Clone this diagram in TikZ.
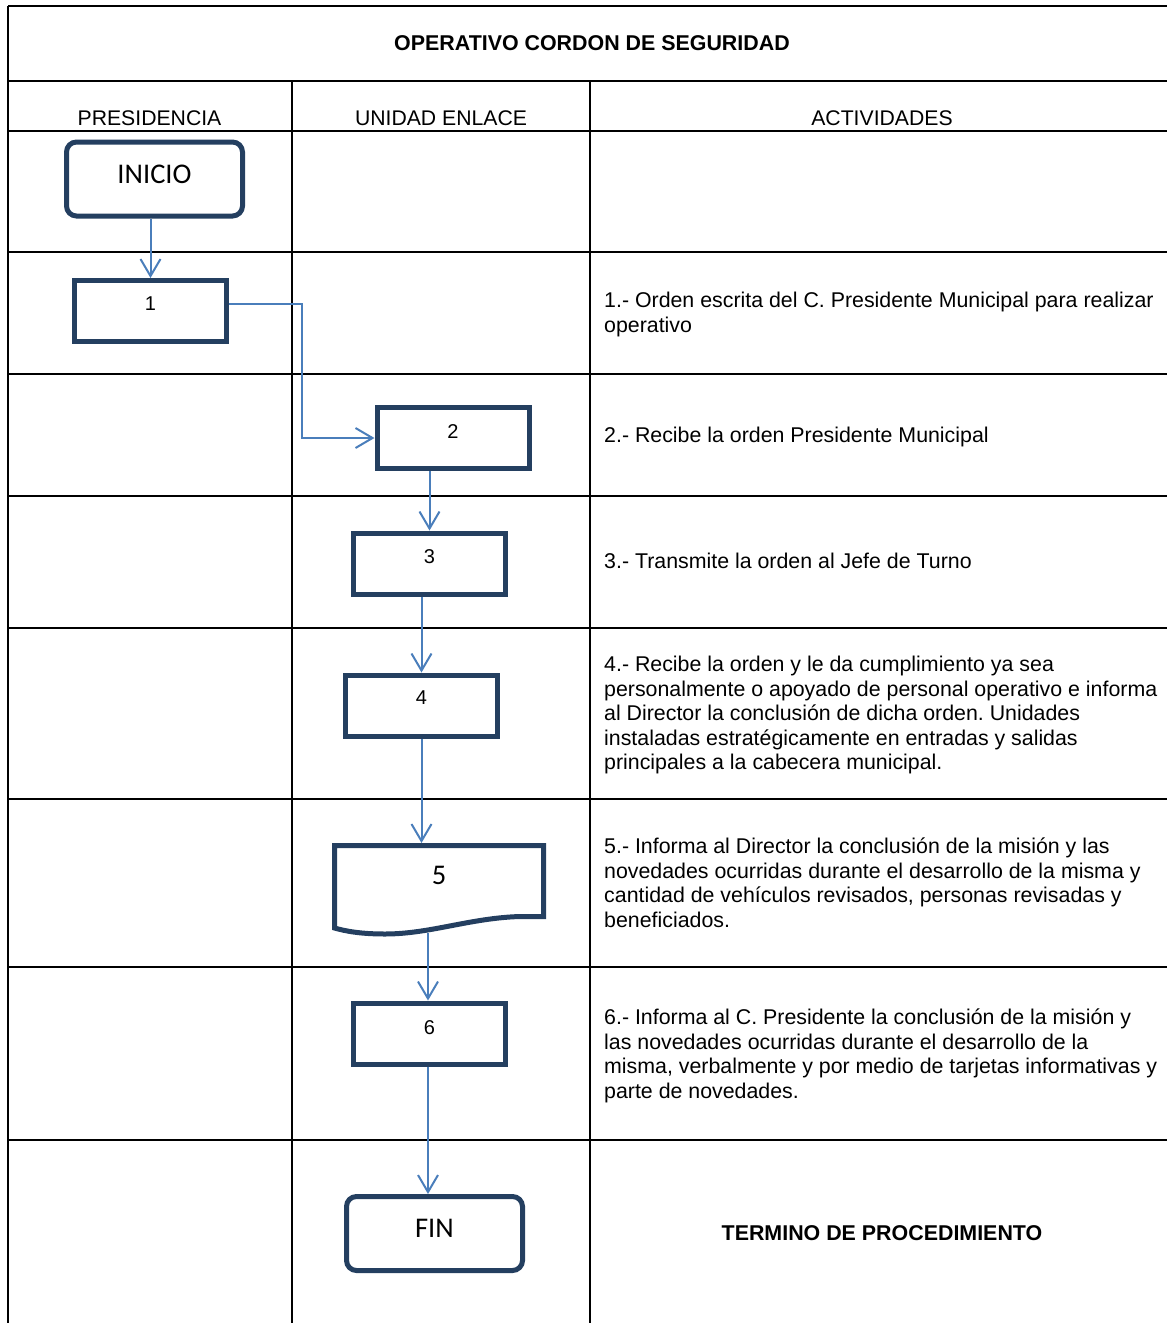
\documentclass[tikz,border=0pt]{standalone}
\usepackage{fontspec}
\setmainfont{Liberation Sans}
\newfontfamily\calib{Carlito}
\usetikzlibrary{arrows.meta}
\definecolor{boxblue}{RGB}{36,63,96}
\definecolor{arrblue}{RGB}{74,126,187}
\frenchspacing
\newcommand\actv[1]{\vtop{\baselineskip=24.5pt\lineskip=0pt\halign{##\hfil\cr#1\crcr}}}
\begin{document}
\begin{tikzpicture}[x=1pt,y=-1pt,
 grid/.style={line width=2.5pt, black},
 procbox/.style={draw=boxblue, line width=5pt, rectangle, minimum width=152pt, minimum height=61pt, inner sep=0pt, font=\fontsize{20}{23}\selectfont},
 termbox/.style={draw=boxblue, line width=5pt, rectangle, rounded corners=10pt, minimum width=176pt, minimum height=74pt, inner sep=0pt, font=\calib\fontsize{28.5}{32}\selectfont},
 flow/.style={draw=arrblue, line width=2pt, -{Straight Barb[length=17pt,width=20pt]}},
 hdr/.style={font=\fontsize{21.2}{24}\selectfont, anchor=base, inner sep=0pt},
 act/.style={font=\fontsize{21.35}{24.5}\selectfont, anchor=base west, inner sep=0pt},
]
\useasboundingbox (0,0) rectangle (1167,1323);
% grid
\draw[grid] (8,6) -- (1167,6);
\draw[grid] (8,81) -- (1167,81);
\foreach \yy in {131,252,374,496,628,799,967,1140} {\draw[grid] (8,\yy) -- (1167,\yy);}
\draw[grid] (8,6) -- (8,1323);
\draw[grid] (292,81) -- (292,1323);
\draw[grid] (590,81) -- (590,1323);
% title and headers
\node[font=\bfseries\fontsize{21.4}{24}\selectfont, anchor=base, inner sep=0pt] (title) at (592,50.5) {OPERATIVO CORDON DE SEGURIDAD};
\node[hdr] (h1) at (149.5,125) {PRESIDENCIA};
\node[hdr] (h2) at (441,125) {UNIDAD ENLACE};
\node[hdr] (h3) at (882,125) {ACTIVIDADES};
% boxes
\node[termbox] (ini) at (154.5,179) {\raisebox{10pt}{INICIO}};
\node[procbox] (b1) at (150.5,311) {\raisebox{14pt}{1}};
\node[procbox] (b2) at (453,438) {\raisebox{12pt}{2}};
\node[procbox] (b3) at (429.5,563.5) {\raisebox{13pt}{3}};
\node[procbox] (b4) at (421.5,705.5) {\raisebox{15pt}{4}};
\node[draw=none, minimum width=214pt, minimum height=64pt, inner sep=0pt, outer sep=0pt, font=\calib\fontsize{28.5}{32}\selectfont] (b5) at (439,875) {5};
\draw[boxblue, line width=5pt] (334.5,845.5) -- (543.5,845.5) -- (543.5,916.5) -- (520,916.5) .. controls (470,918) and (430,934) .. (385,934) .. controls (360,934) and (345,931) .. (334.5,928) -- cycle;
\coordinate (b5w) at (428,933);
\node[procbox] (b6) at (429.5,1033.5) {\raisebox{11pt}{6}};
\node[termbox] (fin) at (434.5,1233.5) {\raisebox{11pt}{FIN}};
% connectors
\coordinate (c12) at (302,380);
\draw[flow] (b1.north |- ini.south) -- (b1.north);
\draw[flow] ([yshift=7pt]b1.east) -| (c12) |- (b2.west);
\draw[flow] (b3.north |- b2.south) -- (b3.north);
\draw[flow] (b4.north |- b3.south) -- (b4.north);
\draw[flow] (b4.south) -- (b4.south |- b5.north);
\draw[flow] (b5w) -- (b5w |- b6.north);
\draw[flow] (b6.south -| b5w) -- (b5w |- fin.north);
% activities
\node[act] (a1) at (604,307.5) {\actv{1.- Orden escrita del C. Presidente Municipal para realizar\cr operativo}};
\node[act] (a2) at (604,442.5) {\actv{2.- Recibe la orden Presidente Municipal}};
\node[act] (a3) at (604,568.5) {\actv{3.- Transmite la orden al Jefe de Turno}};
\node[act] (a4) at (604,671.5) {\actv{4.- Recibe la orden y le da cumplimiento ya sea\cr personalmente o apoyado de personal operativo e informa\cr al Director la conclusión de dicha orden. Unidades\cr instaladas estratégicamente en entradas y salidas\cr principales a la cabecera municipal.}};
\node[act] (a5) at (604,853.5) {\actv{5.- Informa al Director la conclusión de la misión y las\cr novedades ocurridas durante el desarrollo de la misma y\cr cantidad de vehículos revisados, personas revisadas y\cr beneficiados.}};
\node[act] (a6) at (604,1024.5) {\actv{6.- Informa al C. Presidente la conclusión de la misión y\cr las novedades ocurridas durante el desarrollo de la\cr misma, verbalmente y por medio de tarjetas informativas y\cr parte de novedades.}};
\node[font=\bfseries\fontsize{21.4}{24}\selectfont, anchor=base, inner sep=0pt] (term) at (882,1240.5) {TERMINO DE PROCEDIMIENTO};
\end{tikzpicture}
\end{document}
